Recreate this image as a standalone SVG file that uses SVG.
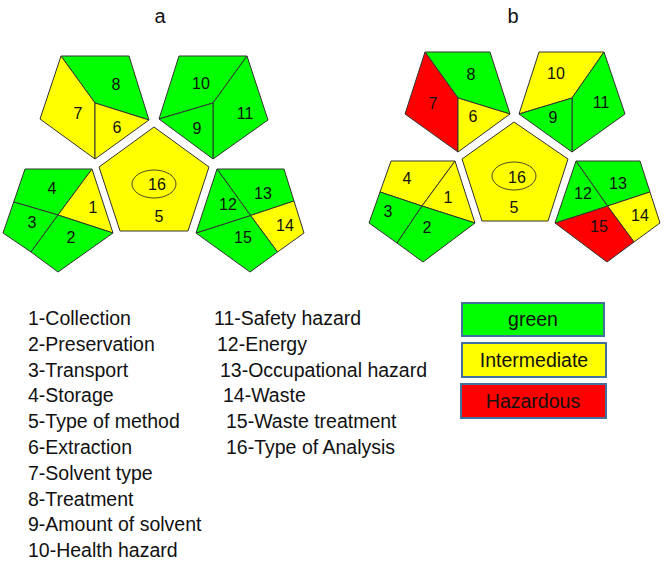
<svg xmlns="http://www.w3.org/2000/svg" width="669" height="562" viewBox="0 0 669 562">
<style>
.g{fill:#00ff00}.y{fill:#ffff00}.r{fill:#ff0000}
.p polygon{stroke:#333;stroke-width:1;stroke-linejoin:round}
.n{font-family:"Liberation Sans",Arial,sans-serif;font-size:16px;fill:#111;text-anchor:middle}
.t{font-family:"Liberation Sans",Arial,sans-serif;font-size:20px;fill:#111;text-anchor:middle}
.l{font-family:"Liberation Sans",Arial,sans-serif;font-size:19.5px;fill:#111}
.lb{stroke:#41719c;stroke-width:2}
.lt{font-family:"Liberation Sans",Arial,sans-serif;font-size:19.5px;fill:#111;text-anchor:middle}
.e{fill:none;stroke:#4a4a20;stroke-width:1}
</style>
<rect width="669" height="562" fill="#fff"/>
<text class="t" x="160" y="23">a</text>
<text class="t" x="513" y="23">b</text>

<g id="a-top-left" class="p">
<polygon class="g" points="61,56 129,56 149,120 95,103"/>
<polygon class="y" points="61,56 95,103 95,159 40,119"/>
<polygon class="y" points="95,103 149,120 95,159"/>
<text class="n" x="116" y="90">8</text>
<text class="n" x="78" y="119">7</text>
<text class="n" x="117" y="133">6</text>
</g>
<g id="a-top-right" class="p">
<polygon class="g" points="179,56 247,56 213,103 159,119"/>
<polygon class="g" points="247,56 268,120 213,159 213,103"/>
<polygon class="g" points="159,119 213,103 213,159"/>
<text class="n" x="201" y="89">10</text>
<text class="n" x="245" y="119">11</text>
<text class="n" x="197" y="134">9</text>
</g>
<g id="a-center" class="p">
<polygon class="y" points="154,127 209,167 188,231 120,231 99,167"/>
<ellipse class="e" cx="154" cy="184" rx="22" ry="14"/>
<text class="n" x="157" y="190">16</text>
<text class="n" x="159" y="222">5</text>
</g>
<g id="a-bottom-left" class="p">
<polygon class="g" points="25,169 92,169 58,215 13.7,202"/>
<polygon class="y" points="92,169 113,233 58,215"/>
<polygon class="g" points="13.7,202 58,215 31,252 3,233"/>
<polygon class="g" points="58,215 113,233 58,272 31,252"/>
<text class="n" x="52" y="194">4</text>
<text class="n" x="93" y="213">1</text>
<text class="n" x="32" y="228">3</text>
<text class="n" x="71" y="243">2</text>
</g>
<g id="a-bottom-right" class="p">
<polygon class="g" points="217,169 284,169 294,201 250.5,215.5"/>
<polygon class="y" points="294,201 304,233 277.5,252 250.5,215.5"/>
<polygon class="g" points="250.5,215.5 277.5,252 250,272 196,233"/>
<polygon class="g" points="217,169 250.5,215.5 196,233"/>
<text class="n" x="263" y="199">13</text>
<text class="n" x="228" y="210">12</text>
<text class="n" x="285" y="231">14</text>
<text class="n" x="243" y="243">15</text>
</g>

<g id="b-top-left" class="p">
<polygon class="g" points="425,52 490,52 510,114 458,98"/>
<polygon class="r" points="425,52 458,98 458,152 405,114"/>
<polygon class="y" points="458,98 510,114 458,152"/>
<text class="n" x="471" y="80">8</text>
<text class="n" x="433" y="109">7</text>
<text class="n" x="473" y="122">6</text>
</g>
<g id="b-top-right" class="p">
<polygon class="y" points="539,52 604,52 572,98 519,114"/>
<polygon class="g" points="604,52 625,114 572,152 572,98"/>
<polygon class="g" points="519,114 572,98 572,152"/>
<text class="n" x="556" y="79">10</text>
<text class="n" x="601" y="108">11</text>
<text class="n" x="553" y="123">9</text>
</g>
<g id="b-center" class="p">
<polygon class="y" points="514,122 568,159 548,221 482,221 462,159"/>
<ellipse class="e" cx="514" cy="176" rx="22" ry="14"/>
<text class="n" x="517" y="183">16</text>
<text class="n" x="514" y="213">5</text>
</g>
<g id="b-bottom-left" class="p">
<polygon class="y" points="391,161 455,161 422,206 380,192"/>
<polygon class="y" points="455,161 475,223 422,206"/>
<polygon class="g" points="380,192 422,206 397,243 369,223"/>
<polygon class="g" points="422,206 475,223 423,262 397,243"/>
<text class="n" x="407" y="184">4</text>
<text class="n" x="448" y="203">1</text>
<text class="n" x="388" y="217">3</text>
<text class="n" x="427" y="233">2</text>
</g>
<g id="b-bottom-right" class="p">
<polygon class="g" points="576,161 640,161 650,192 607.5,206"/>
<polygon class="y" points="650,192 660,223 634,242 607.5,206"/>
<polygon class="r" points="607.5,206 634,242 607,262 555,223"/>
<polygon class="g" points="576,161 607.5,206 555,223"/>
<text class="n" x="618" y="189">13</text>
<text class="n" x="583" y="199">12</text>
<text class="n" x="640" y="221">14</text>
<text class="n" x="599" y="232">15</text>
</g>

<g id="legend-list">
<text class="l" x="28" y="325">1-Collection</text>
<text class="l" x="28" y="351">2-Preservation</text>
<text class="l" x="28" y="377">3-Transport</text>
<text class="l" x="28" y="402">4-Storage</text>
<text class="l" x="28" y="428">5-Type of method</text>
<text class="l" x="28" y="454">6-Extraction</text>
<text class="l" x="28" y="480">7-Solvent type</text>
<text class="l" x="28" y="506">8-Treatment</text>
<text class="l" x="28" y="531">9-Amount of solvent</text>
<text class="l" x="28" y="557">10-Health hazard</text>
<text class="l" x="214" y="325">11-Safety hazard</text>
<text class="l" x="217" y="351">12-Energy</text>
<text class="l" x="220" y="377">13-Occupational hazard</text>
<text class="l" x="223" y="402">14-Waste</text>
<text class="l" x="226" y="428">15-Waste treatment</text>
<text class="l" x="226" y="454">16-Type of Analysis</text>
</g>

<g id="legend-green">
<rect class="g lb" x="462" y="303" width="142" height="33"/>
<text class="lt" x="533" y="326">green</text>
</g>
<g id="legend-intermediate">
<rect class="y lb" x="462" y="343" width="144" height="34"/>
<text class="lt" x="534" y="367">Intermediate</text>
</g>
<g id="legend-hazardous">
<rect class="r lb" x="461" y="384" width="145" height="34"/>
<text class="lt" x="533" y="408">Hazardous</text>
</g>
</svg>
